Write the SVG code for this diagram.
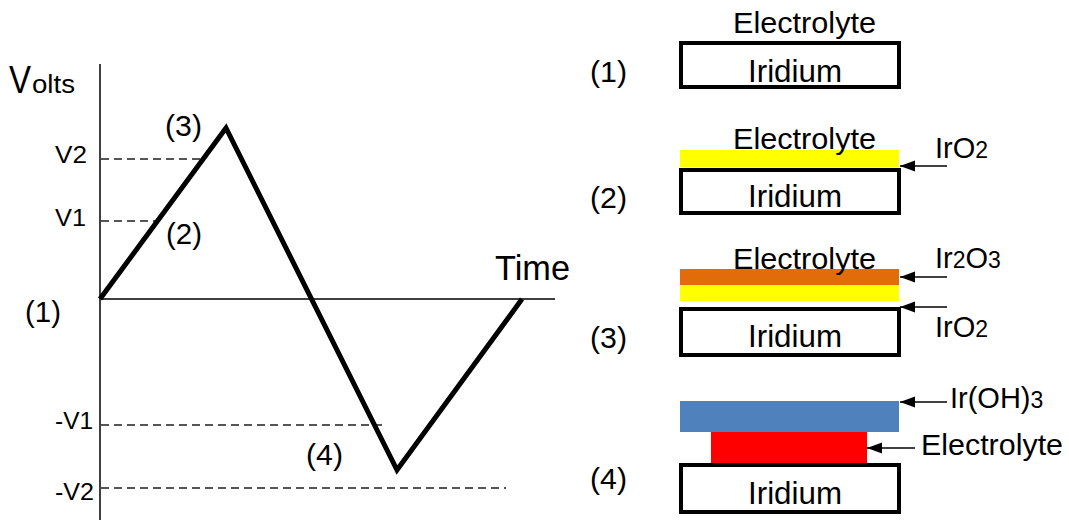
<svg xmlns="http://www.w3.org/2000/svg" width="1069" height="520" viewBox="0 0 1069 520">
  <style>
    text { font-family: "Liberation Sans", Arial, sans-serif; fill: #000; }
    .axis { stroke: #404040; stroke-width: 2; fill: none; }
    .level { stroke: #555; stroke-width: 2; stroke-dasharray: 8 5; fill: none; }
    .wave { stroke: #000; stroke-width: 5; fill: none; stroke-linejoin: miter; }
    .metal { fill: #fff; stroke: #000; stroke-width: 4; }
    .lead { stroke: #000; stroke-width: 1.6; fill: none; marker-end: url(#head); }
    .lbl { font-size: 29px; }
    .mat { font-size: 31px; }
    .sub { font-size: 23px; }
    .tick { font-size: 23px; }
  </style>
  <defs>
    <marker id="head" markerUnits="userSpaceOnUse" markerWidth="16" markerHeight="12" refX="15" refY="6" orient="auto">
      <path d="M0,0.5 L15,6 L0,11.5 Z" fill="#000"/>
    </marker>
  </defs>

  <rect width="1069" height="520" fill="#fff"/>

  <!-- voltage sweep plot -->
  <g id="plot">
    <line class="axis" x1="100" y1="64" x2="100" y2="520"/>
    <line class="axis" x1="100" y1="299" x2="555" y2="299"/>
    <line class="level" x1="101" y1="159" x2="200" y2="159"/>
    <line class="level" x1="101" y1="221" x2="160" y2="221"/>
    <line class="level" x1="101" y1="425" x2="383" y2="425"/>
    <line class="level" x1="101" y1="488" x2="506" y2="488"/>
    <polyline class="wave" points="100,299 226,128 397,470 522,299"/>
    <text x="9" y="93" font-size="39" textLength="22" lengthAdjust="spacingAndGlyphs">V</text>
    <text x="32" y="93" font-size="26" textLength="43" lengthAdjust="spacingAndGlyphs">olts</text>
    <text x="495" y="280" font-size="35" textLength="75" lengthAdjust="spacingAndGlyphs">Time</text>
    <text class="tick" x="55" y="163" textLength="32" lengthAdjust="spacingAndGlyphs">V2</text>
    <text class="tick" x="55" y="226" textLength="31" lengthAdjust="spacingAndGlyphs">V1</text>
    <text class="tick" x="55" y="429" textLength="38" lengthAdjust="spacingAndGlyphs">-V1</text>
    <text class="tick" x="55" y="500" textLength="39" lengthAdjust="spacingAndGlyphs">-V2</text>
    <text class="lbl" x="25" y="322" textLength="36" lengthAdjust="spacingAndGlyphs">(1)</text>
    <text class="lbl" x="166" y="244" textLength="36" lengthAdjust="spacingAndGlyphs">(2)</text>
    <text class="lbl" x="165" y="136" textLength="37" lengthAdjust="spacingAndGlyphs">(3)</text>
    <text class="lbl" x="306" y="465" textLength="37" lengthAdjust="spacingAndGlyphs">(4)</text>
  </g>

  <!-- stage 1: bare iridium -->
  <g id="stage1">
    <text class="lbl" x="590" y="82" textLength="37" lengthAdjust="spacingAndGlyphs">(1)</text>
    <text class="lbl" x="733" y="33" textLength="143" lengthAdjust="spacingAndGlyphs">Electrolyte</text>
    <rect class="metal" x="681" y="43" width="218" height="44"/>
    <text class="mat" x="748" y="82" textLength="94" lengthAdjust="spacingAndGlyphs">Iridium</text>
  </g>

  <!-- stage 2: IrO2 film -->
  <g id="stage2">
    <text class="lbl" x="590" y="208" textLength="37" lengthAdjust="spacingAndGlyphs">(2)</text>
    <rect x="680" y="150" width="219" height="17" fill="#ffff00"/>
    <text class="lbl" x="733" y="149" textLength="143" lengthAdjust="spacingAndGlyphs">Electrolyte</text>
    <rect class="metal" x="681" y="170" width="218" height="43"/>
    <text class="mat" x="748" y="207" textLength="94" lengthAdjust="spacingAndGlyphs">Iridium</text>
    <text class="lbl" x="935" y="158">IrO<tspan class="sub">2</tspan></text>
  </g>

  <!-- stage 3: Ir2O3 over IrO2 -->
  <g id="stage3">
    <text class="lbl" x="590" y="348" textLength="37" lengthAdjust="spacingAndGlyphs">(3)</text>
    <rect x="680" y="269" width="219" height="16" fill="#e36c0a"/>
    <rect x="680" y="285" width="219" height="16" fill="#ffff00"/>
    <text class="lbl" x="733" y="269" textLength="143" lengthAdjust="spacingAndGlyphs">Electrolyte</text>
    <rect class="metal" x="681" y="309" width="218" height="46"/>
    <text class="mat" x="748" y="347" textLength="94" lengthAdjust="spacingAndGlyphs">Iridium</text>
    <text class="lbl" x="935" y="268">Ir<tspan class="sub">2</tspan>O<tspan class="sub">3</tspan></text>
    <text class="lbl" x="935" y="337">IrO<tspan class="sub">2</tspan></text>
  </g>

  <!-- stage 4: Ir(OH)3 with trapped electrolyte -->
  <g id="stage4">
    <text class="lbl" x="590" y="489" textLength="37" lengthAdjust="spacingAndGlyphs">(4)</text>
    <rect x="680" y="401" width="219" height="31" fill="#4f81bd"/>
    <rect x="711" y="432" width="156" height="32" fill="#ff0000"/>
    <rect class="metal" x="681" y="465" width="218" height="47"/>
    <text class="mat" x="748" y="504" textLength="94" lengthAdjust="spacingAndGlyphs">Iridium</text>
    <text class="lbl" x="950" y="408">Ir(OH)<tspan class="sub">3</tspan></text>
    <text class="lbl" x="921" y="455" textLength="142" lengthAdjust="spacingAndGlyphs">Electrolyte</text>
  </g>

  <!-- leader arrows -->
  <g id="leaders">
    <line class="lead" x1="947" y1="166" x2="900" y2="166"/>
    <line class="lead" x1="947" y1="277" x2="900" y2="277"/>
    <line class="lead" x1="947" y1="307" x2="900" y2="307"/>
    <line class="lead" x1="947" y1="402" x2="900" y2="402"/>
    <line class="lead" x1="915" y1="448" x2="867" y2="448"/>
  </g>
</svg>
